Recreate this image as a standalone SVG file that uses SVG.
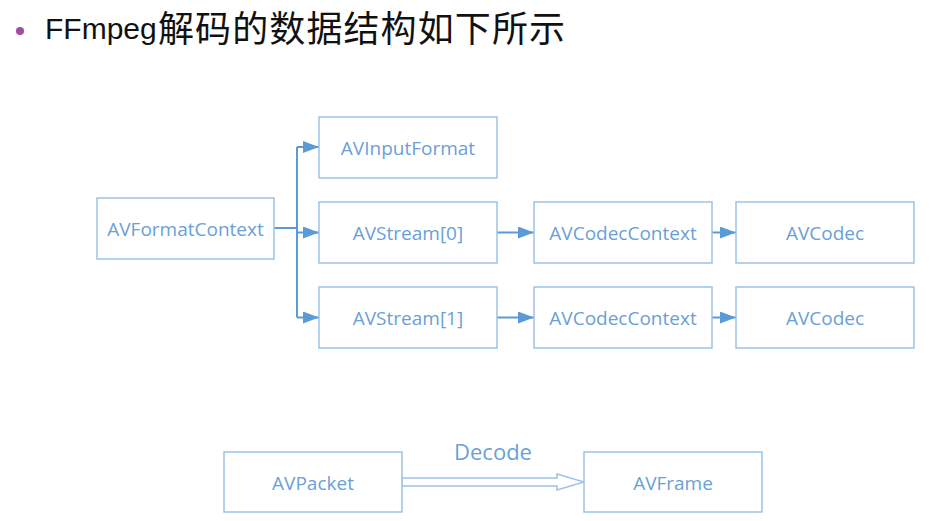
<svg xmlns="http://www.w3.org/2000/svg" width="936" height="521" viewBox="0 0 936 521">
  <style>
    .box { fill: #ffffff; stroke: #9dc3e6; stroke-width: 1.5; }
    .lbl { font-family: "Open Sans", "Noto Sans", sans-serif; font-size: 19px; fill: #6a9fd8; text-anchor: middle; }
    .conn { fill: none; stroke: #5b9bd5; stroke-width: 2; }
    .title { fill: #111111; }
  </style>
  <defs>
    <marker id="arr" markerUnits="userSpaceOnUse" markerWidth="16" markerHeight="12" refX="16" refY="6" orient="auto">
      <path d="M0,0 L16,6 L0,12 Z" fill="#5b9bd5"/>
    </marker>
  </defs>
  <rect width="936" height="521" fill="#ffffff"/>

  <g id="title">
    <circle cx="20" cy="31" r="4" fill="#a34aa8"/>
    <text class="title" x="45" y="39" font-size="30" font-family="'Liberation Sans', 'Noto Sans CJK SC', sans-serif">FFmpeg</text>
    <text class="title" x="158" y="42" font-size="36" textLength="407" lengthAdjust="spacing" font-family="'Noto Sans CJK SC', sans-serif">解码的数据结构如下所示</text>
  </g>

  <g id="connectors">
    <path class="conn" d="M274,228 H297 M297,147 V317.5"/>
    <path class="conn" d="M297,147 H319" marker-end="url(#arr)"/>
    <path class="conn" d="M297,232.5 H319" marker-end="url(#arr)"/>
    <path class="conn" d="M297,317.5 H319" marker-end="url(#arr)"/>
    <path class="conn" d="M497,232.5 H534" marker-end="url(#arr)"/>
    <path class="conn" d="M712,232.5 H736" marker-end="url(#arr)"/>
    <path class="conn" d="M497,317.5 H534" marker-end="url(#arr)"/>
    <path class="conn" d="M712,317.5 H736" marker-end="url(#arr)"/>
    <polygon points="402,478 557,478 557,474 584,482 557,490 557,486 402,486" fill="#ffffff" stroke="#9dc3e6" stroke-width="1.5"/>
    <text x="493" y="460" font-family="'Open Sans', 'Noto Sans', sans-serif" font-size="22" fill="#6a9fd8" text-anchor="middle">Decode</text>
  </g>

  <g id="AVFormatContext">
    <rect class="box" x="97" y="198" width="177" height="61"/>
    <text class="lbl" x="185.5" y="236">AVFormatContext</text>
  </g>
  <g id="AVInputFormat">
    <rect class="box" x="319" y="117" width="178" height="61"/>
    <text class="lbl" x="408" y="155">AVInputFormat</text>
  </g>
  <g id="AVStream0">
    <rect class="box" x="319" y="202" width="178" height="61"/>
    <text class="lbl" x="408" y="240">AVStream[0]</text>
  </g>
  <g id="AVStream1">
    <rect class="box" x="319" y="287" width="178" height="61"/>
    <text class="lbl" x="408" y="325">AVStream[1]</text>
  </g>
  <g id="AVCodecContext0">
    <rect class="box" x="534" y="202" width="178" height="61"/>
    <text class="lbl" x="623" y="240">AVCodecContext</text>
  </g>
  <g id="AVCodecContext1">
    <rect class="box" x="534" y="287" width="178" height="61"/>
    <text class="lbl" x="623" y="325">AVCodecContext</text>
  </g>
  <g id="AVCodec0">
    <rect class="box" x="736" y="202" width="178" height="61"/>
    <text class="lbl" x="825" y="240">AVCodec</text>
  </g>
  <g id="AVCodec1">
    <rect class="box" x="736" y="287" width="178" height="61"/>
    <text class="lbl" x="825" y="325">AVCodec</text>
  </g>
  <g id="AVPacket">
    <rect class="box" x="224" y="452" width="178" height="60"/>
    <text class="lbl" x="313" y="489.5">AVPacket</text>
  </g>
  <g id="AVFrame">
    <rect class="box" x="584" y="452" width="178" height="60"/>
    <text class="lbl" x="673" y="489.5">AVFrame</text>
  </g>
</svg>
